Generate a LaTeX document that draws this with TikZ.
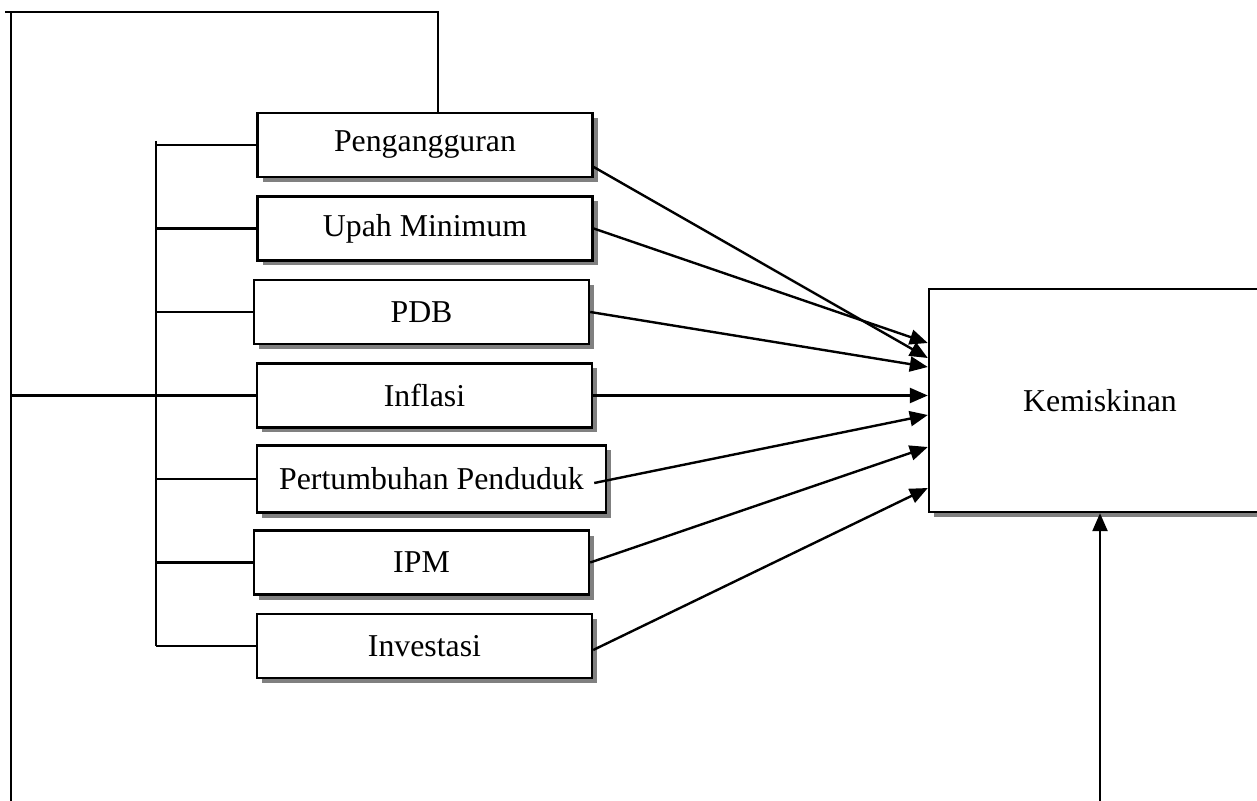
\documentclass[tikz,border=0pt]{standalone}
\usepackage{fontspec}
\setmainfont{Liberation Serif}
\usetikzlibrary{positioning,shadows,arrows.meta}

\begin{document}
\begin{tikzpicture}[x=0.5pt,y=-0.5pt,line width=1.2pt,node distance=41.75pt,on grid,
	>={Triangle[length=9pt,width=7.5pt]},
	factor/.style={draw,fill=white,minimum width=167.5pt,minimum height=32pt,
		font=\fontsize{15.9}{19}\selectfont,
		drop shadow={shadow xshift=2.5pt,shadow yshift=-2.5pt,fill=black!50,opacity=1}},
	target/.style={factor,minimum width=171pt,minimum height=111.5pt}]
	\useasboundingbox (0,0) rectangle (1257,801);
	\node[factor] (peng) at (425,145) {Pengangguran};
	\node[factor] (upah) [below = of peng] {Upah Minimum};
	\node[factor] (pdb) [below = of upah, xshift=-1.75pt] {PDB};
	\node[factor] (infl) [below = of pdb, xshift=1.5pt] {Inflasi};
	\node[factor,minimum width=174.5pt,minimum height=33.5pt] (pert) [below = of infl, xshift=3.5pt] {Pertumbuhan Penduduk};
	\node[factor] (ipm) [below = of pert, xshift=-5pt] {IPM};
	\node[factor] (inv) [below = of ipm, xshift=1.5pt] {Investasi};
	\node[target] (kem) at (1100,400.5) {Kemiskinan};

	\coordinate (lt) at (5,12);
	\coordinate (lb) at (11,801);
	\coordinate (top) at (438,12);
	\coordinate (bus) at (156,141);
	\coordinate (base) at (1100,801);

	\draw (lb) -- (lb |- lt);
	\draw (lt) -- (top) -- (top |- peng.north);
	\draw (lb |- infl.west) -- (infl.west);
	\draw (bus) -- (bus |- inv.west);
	\foreach \n in {peng,upah,pdb,pert,ipm,inv}
		\draw (bus |- \n.west) -- (\n.west);

	\draw[->] ([yshift=-11pt]peng.east) -- ([yshift=21.25pt]kem.west);
	\draw[->] (upah.east) -- ([yshift=28.75pt]kem.west);
	\draw[->] (pdb.east) -- ([yshift=16.75pt]kem.west);
	\draw[->] (infl.east) -- (infl.east -| kem.west);
	\draw[->] ([xshift=-6.5pt,yshift=-2pt]pert.east) -- ([yshift=-7.25pt]kem.west);
	\draw[->] (ipm.east) -- ([yshift=-23.25pt]kem.west);
	\draw[->] ([yshift=-2pt]inv.east) -- ([yshift=-43.75pt]kem.west);
	\draw[->] (base) -- (kem.south);
\end{tikzpicture}
\end{document}
